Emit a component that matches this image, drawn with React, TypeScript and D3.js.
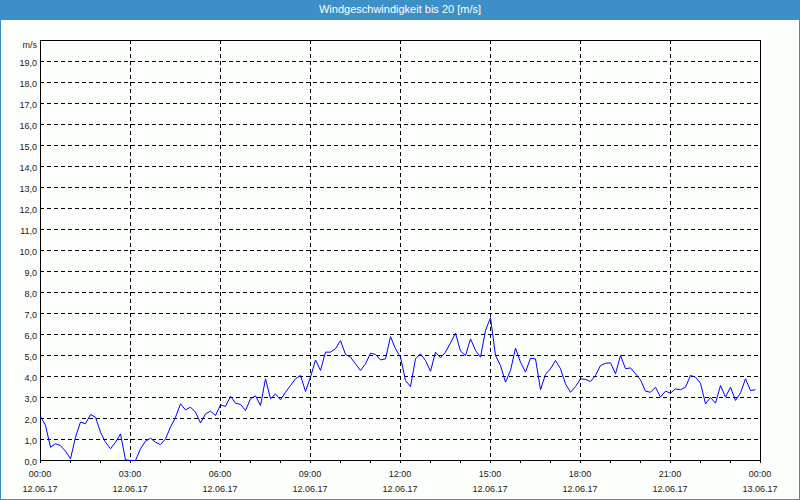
import React from "react";
import * as d3 from "d3";

const TITLE = "Windgeschwindigkeit bis 20 [m/s]";
const UNIT = "m/s";
const START = "2017-06-12T00:00:00";
const STEP_MINUTES = 10;
const TICK_HOURS = [0, 3, 6, 9, 12, 15, 18, 21, 24];
const Y_TICKS = [0, 1, 2, 3, 4, 5, 6, 7, 8, 9, 10, 11, 12, 13, 14, 15, 16, 17, 18, 19];

// wind speed, one value per 10 minutes from 00:00 to 23:50
const windSpeed = [
  2.1, 1.67, 0.63, 0.8, 0.71, 0.44, 0.08, 1.11, 1.83, 1.75,
  2.19, 2.06, 1.35, 0.87, 0.56, 0.87, 1.27, 0.03, 0, 0,
  0.56, 0.92, 1.06, 0.87, 0.76, 1.03, 1.59, 2.06, 2.7, 2.41,
  2.54, 2.3, 1.79, 2.22, 2.35, 2.14, 2.65, 2.57, 3.06, 2.73,
  2.67, 2.38, 2.94, 3.08, 2.62, 3.89, 2.94, 3.17, 2.89, 3.25,
  3.57, 3.89, 4.05, 3.29, 3.97, 4.79, 4.29, 5.16, 5.16, 5.32,
  5.71, 5.05, 4.92, 4.6, 4.29, 4.6, 5.11, 5.05, 4.79, 4.84,
  5.9, 5.32, 4.92, 3.81, 3.52, 4.84, 5.08, 4.76, 4.25, 5.16,
  4.89, 5.16, 5.6, 6.06, 5.21, 5.0, 5.79, 5.24, 4.92, 6.19,
  6.8, 5.0, 4.52, 3.73, 4.29, 5.35, 4.68, 4.21, 4.87, 4.84,
  3.37, 4.1, 4.37, 4.76, 4.37, 3.65, 3.25, 3.52, 3.89, 3.86,
  3.76, 4.05, 4.52, 4.63, 4.65, 4.13, 5.0, 4.37, 4.41, 4.13,
  3.84, 3.3, 3.25, 3.49, 3.02, 3.3, 3.21, 3.41, 3.37, 3.49,
  4.05, 3.97, 3.68, 2.7, 3.0, 2.73, 3.57, 3.02, 3.49, 2.86,
  3.22, 3.89, 3.33, 3.37,
];

const W = 800;
const H = 500;
const FONT = "'Liberation Sans', Arial, sans-serif";

export default function App() {
  const start = new Date(START);
  const end = d3.timeHour.offset(start, 24);
  const x = d3.scaleTime().domain([start, end]).range([40, 760]);
  const y = d3.scaleLinear().domain([0, 20]).range([460, 40]);

  const data = windSpeed.map((v, i) => ({ t: d3.timeMinute.offset(start, i * STEP_MINUTES), v }));
  const line = d3
    .line<{ t: Date; v: number }>()
    .x((d) => x(d.t) + 0.5)
    .y((d) => y(d.v) + 0.5);

  const hourTicks = d3.timeHour.range(start, d3.timeHour.offset(end, 1));
  const labelTicks = TICK_HOURS.map((h) => d3.timeHour.offset(start, h));
  const fmtTime = d3.timeFormat("%H:%M");
  const fmtDate = d3.timeFormat("%d.%m.%y");
  const fmtY = (v: number) => d3.format(".1f")(v).replace(".", ",");

  const [x0, x1] = x.range();
  const [y0, y1] = y.range();

  return (
    <svg
      width={W}
      height={H}
      style={{ position: "absolute", left: 0, top: 0, display: "block" }}
      fontFamily={FONT}
    >
      <rect x={0} y={0} width={W} height={H} fill="#fcfefc" />
      <rect x={0.5} y={0.5} width={W - 1} height={H - 1} fill="none" stroke="#3d8fc7" />
      <rect x={0} y={0} width={W} height={20} fill="#3d8fc7" />
      <text x={W / 2} y={13} textAnchor="middle" fill="#ffffff" fontSize={11}>
        {TITLE}
      </text>

      {/* horizontal grid */}
      {Y_TICKS.filter((v) => v > 0).map((v) => (
        <line
          key={"h" + v}
          x1={x0}
          x2={x1}
          y1={Math.round(y(v)) + 0.5}
          y2={Math.round(y(v)) + 0.5}
          stroke="#000"
          strokeDasharray="4,3"
          shapeRendering="crispEdges"
        />
      ))}
      {/* vertical grid */}
      {labelTicks.slice(1, -1).map((t) => (
        <line
          key={"v" + t.getTime()}
          x1={Math.round(x(t)) + 0.5}
          x2={Math.round(x(t)) + 0.5}
          y1={y1}
          y2={y0 + 3}
          stroke="#000"
          strokeDasharray="4,3"
          shapeRendering="crispEdges"
        />
      ))}
      {/* hour ticks */}
      {hourTicks.map((t) => (
        <line
          key={"t" + t.getTime()}
          x1={Math.round(x(t)) + 0.5}
          x2={Math.round(x(t)) + 0.5}
          y1={y0}
          y2={y0 + 3}
          stroke="#000"
          shapeRendering="crispEdges"
        />
      ))}
      {/* frame */}
      <rect
        x={x0 + 0.5}
        y={y1 + 0.5}
        width={x1 - x0}
        height={y0 - y1}
        fill="none"
        stroke="#000"
        shapeRendering="crispEdges"
      />

      {/* y labels */}
      <text x={37} y={48} textAnchor="end" fontSize={9} fill="#1a1a1a">
        {UNIT}
      </text>
      {Y_TICKS.map((v) => (
        <text key={"yl" + v} x={37} y={y(v) + 4.5} textAnchor="end" fontSize={9} fill="#1a1a1a">
          {fmtY(v)}
        </text>
      ))}

      {/* x labels */}
      {labelTicks.map((t) => (
        <g key={"xl" + t.getTime()}>
          <text x={x(t)} y={477} textAnchor="middle" fontSize={9} fill="#1a1a1a">
            {fmtTime(t)}
          </text>
          <text x={x(t)} y={492} textAnchor="middle" fontSize={9} fill="#1a1a1a">
            {fmtDate(t)}
          </text>
        </g>
      ))}

      <path d={line(data) || ""} fill="none" stroke="#0000ff" strokeWidth={1} />
    </svg>
  );
}
